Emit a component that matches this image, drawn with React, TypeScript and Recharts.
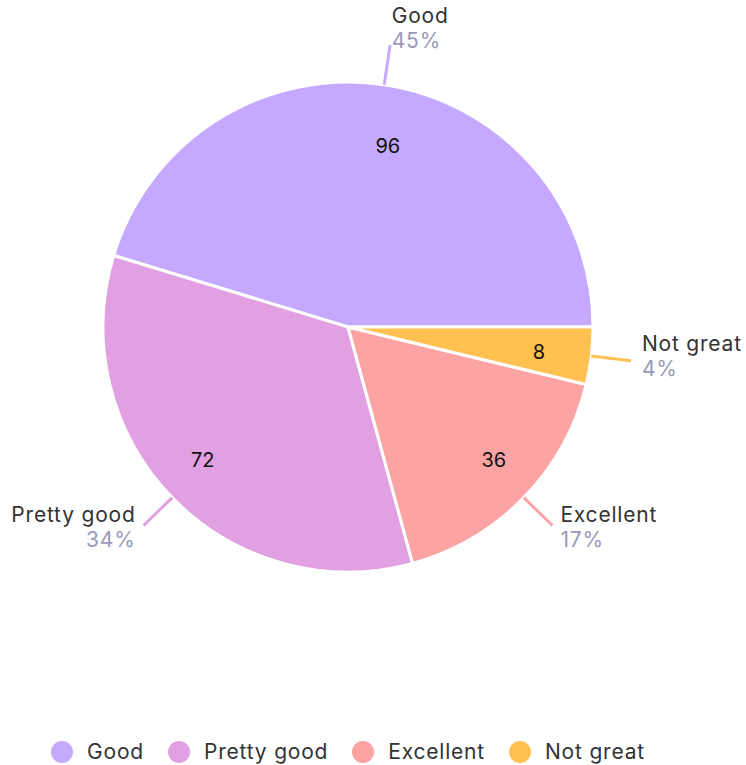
import React from 'react';
import { PieChart, Pie, Cell, Legend } from 'recharts';

const categories = ['Good', 'Pretty good', 'Excellent', 'Not great'];
const counts = [96, 72, 36, 8];
const colors = ['#C5A8FF', '#E1A0E1', '#FCA3A3', '#FFC150'];

const data = categories.map((name, i) => ({ name, value: counts[i] }));

const RADIAN = Math.PI / 180;
const FONT = 'Inter, "Noto Sans", sans-serif';
const SPACING = 0.8;

const renderLabel = (props: any) => {
  const { cx, cy, midAngle, outerRadius, percent, name, value, index } = props;
  const cos = Math.cos(-midAngle * RADIAN);
  const sin = Math.sin(-midAngle * RADIAN);
  const at = (r: number) => [cx + r * cos, cy + r * sin];
  const [x0, y0] = at(outerRadius);
  const [x1, y1] = at(outerRadius + 40);
  const [tx, ty] = at(outerRadius + 51);
  const [ix, iy] = at(186);
  const anchor = cos >= 0 ? 'start' : 'end';
  return (
    <g>
      <text x={ix} y={iy + 3} fill="#111" fontSize={20} textAnchor={anchor} dominantBaseline="central" fontFamily={FONT}>
        {value}
      </text>
      <line x1={x0} y1={y0} x2={x1} y2={y1} stroke={colors[index]} strokeWidth={3} />
      <text x={tx} y={ty - 19} fill="#333" fontSize={21} letterSpacing={SPACING} textAnchor={anchor} dominantBaseline="central" fontFamily={FONT}>
        {name}
      </text>
      <text x={tx} y={ty + 6} fill="#9A9AB8" fontSize={21} letterSpacing={SPACING} textAnchor={anchor} dominantBaseline="central" fontFamily={FONT}>
        {`${Math.round(percent * 100)}%`}
      </text>
    </g>
  );
};

const renderLegend = () => (
  <div style={{ display: 'flex', justifyContent: 'center', alignItems: 'center', gap: 24, fontFamily: FONT, fontSize: 21, letterSpacing: SPACING, color: '#333' }}>
    {categories.map((c, i) => (
      <div key={c} style={{ display: 'flex', alignItems: 'center' }}>
        <span style={{ width: 22, height: 22, borderRadius: 11, background: colors[i], display: 'inline-block', marginRight: 14 }} />
        <span>{c}</span>
      </div>
    ))}
  </div>
);

export default function App() {
  return (
    <div style={{ position: 'absolute', left: 0, top: 0, width: 746, height: 765, background: '#fff' }}>
      <PieChart width={746} height={765}>
        <Pie
          data={data}
          dataKey="value"
          nameKey="name"
          cx={343}
          cy={322}
          outerRadius={245}
          startAngle={0}
          endAngle={360}
          stroke="#fff"
          strokeWidth={3}
          label={renderLabel}
          labelLine={false}
          isAnimationActive={false}
        >
          {data.map((d, i) => (
            <Cell key={d.name} fill={colors[i]} />
          ))}
        </Pie>
        <Legend
          content={renderLegend}
          wrapperStyle={{ position: 'absolute', left: 0, top: 739, width: 696, height: 28 }}
        />
      </PieChart>
    </div>
  );
}
